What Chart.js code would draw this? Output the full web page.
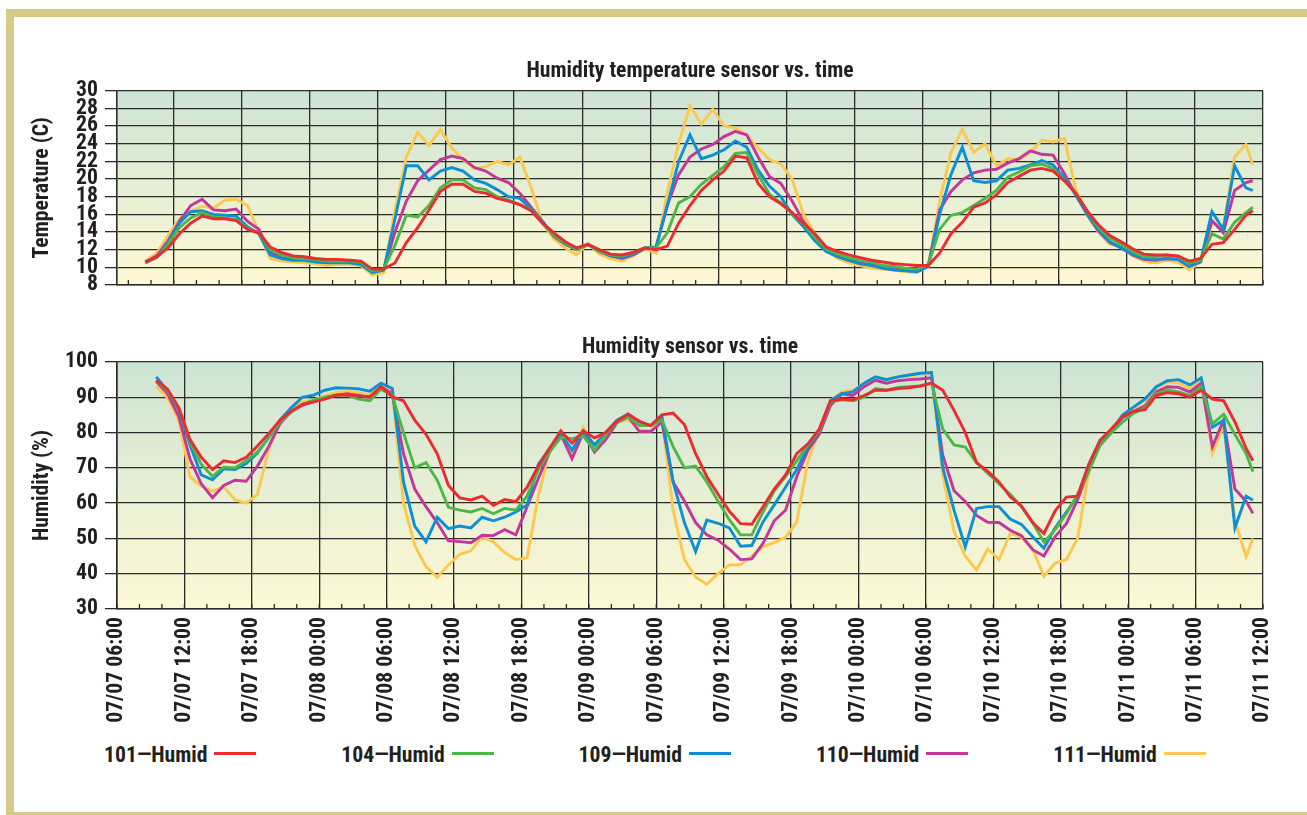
<!DOCTYPE html>
<html>
<head>
<meta charset="utf-8">
<title>Humidity sensor vs. time</title>
<script src="https://cdn.jsdelivr.net/npm/chart.js@4.4.1/dist/chart.umd.min.js"></script>
<style>
  html, body { margin: 0; padding: 0; background: #fff; overflow: hidden; }
  body { position: relative; width: 1307px; height: 815px; }
  .frame {
    position: absolute; left: 6px; top: 9px; width: 1400px; height: 811px;
    box-sizing: border-box; border: 8px solid #d8c98b;
  }
  canvas { position: absolute; left: 0; }
  #tempChart { top: 0; }
  #humidChart { top: 305px; }
  .legend-item { position: absolute; white-space: nowrap; font-weight: bold; color: #231f20; }
  .legend-item .swatch {
    display: inline-block; width: 42px; height: 3px; margin-left: 7px; vertical-align: 7.5px;
  }
</style>
</head>
<body>
<div class="frame"></div>
<canvas id="tempChart" width="1307" height="305"></canvas>
<canvas id="humidChart" width="1307" height="430"></canvas>
<div id="legend"></div>

<script>
const TEXT = '#231f20';
const GRID = '#2b2b2b';

const seriesNames = ['101\u2014Humid', '104\u2014Humid', '109\u2014Humid', '110\u2014Humid', '111\u2014Humid'];
const seriesColors = ['#ed2a2f', '#4cb748', '#0b8fd5', '#c4369a', '#fdc84e'];

const timeTickLabels = [
    '07/07 06:00', '07/07 12:00', '07/07 18:00', '07/08 00:00', '07/08 06:00', '07/08 12:00',
    '07/08 18:00', '07/09 00:00', '07/09 06:00', '07/09 12:00', '07/09 18:00', '07/10 00:00',
    '07/10 06:00', '07/10 12:00', '07/10 18:00', '07/11 00:00', '07/11 06:00', '07/11 12:00'
];

// hours since 07/07 00:00 - hourly readings from 09:30, last one at 11:06 on 07/11
const sampleHours = Array.from({ length: 98 }, (_, i) => 9.5 + i).concat([107.1]);

// temperature (C)
const temp101 = [
    10.6, 11.2, 12.2, 13.8, 15.0, 15.8, 15.5, 15.5, 15.3, 14.3,
    13.9, 12.3, 11.7, 11.3, 11.2, 11.0, 10.9, 10.9, 10.8, 10.7,
    9.8, 9.8, 10.5, 12.8, 14.5, 16.5, 18.6, 19.4, 19.4, 18.6,
    18.4, 17.8, 17.5, 17.1, 16.4, 15.0, 13.9, 12.9, 12.2, 12.6,
    12.0, 11.5, 11.4, 11.7, 12.2, 12.0, 12.4, 15.0, 17.0, 18.7,
    19.9, 20.9, 22.6, 22.4, 19.5, 18.0, 17.2, 16.2, 15.0, 13.8,
    12.3, 11.8, 11.4, 11.1, 10.8, 10.6, 10.4, 10.3, 10.2, 10.2,
    11.6, 13.8, 15.1, 16.8, 17.3, 18.2, 19.6, 20.3, 21.0, 21.2,
    20.9, 19.8, 18.4, 16.4, 14.8, 13.6, 12.9, 12.1, 11.5, 11.4,
    11.4, 11.3, 10.7, 11.0, 12.6, 12.8, 14.3, 15.9, 16.4
];
const temp104 = [
    10.6, 11.1, 12.6, 14.5, 15.6, 16.2, 15.7, 15.6, 15.4, 14.4,
    13.9, 12.0, 11.4, 11.1, 11.0, 10.9, 10.7, 10.7, 10.7, 10.6,
    9.6, 9.8, 12.5, 15.9, 15.7, 17.0, 19.0, 19.9, 19.9, 19.0,
    18.8, 18.0, 17.6, 17.1, 16.5, 15.0, 13.6, 12.7, 12.0, 12.6,
    11.8, 11.4, 11.3, 11.7, 12.2, 12.2, 13.9, 17.3, 18.0, 19.4,
    20.4, 21.4, 22.9, 23.0, 20.5, 18.3, 17.3, 16.1, 14.9, 13.4,
    12.1, 11.5, 11.1, 10.8, 10.6, 10.2, 10.1, 9.9, 9.8, 10.3,
    14.3, 15.9, 16.2, 17.0, 17.8, 18.7, 20.2, 20.8, 21.5, 21.7,
    21.2, 19.8, 18.4, 16.4, 14.5, 13.3, 12.6, 11.8, 11.2, 11.2,
    11.4, 11.2, 10.5, 10.8, 13.8, 13.2, 15.1, 16.2, 16.8
];
const temp109 = [
    10.5, 11.1, 12.8, 15.0, 16.3, 16.4, 16.0, 15.9, 15.8, 14.6,
    13.8, 11.4, 11.0, 10.8, 10.8, 10.6, 10.5, 10.5, 10.5, 10.3,
    9.4, 9.7, 15.5, 21.5, 21.5, 19.9, 20.9, 21.3, 20.9, 19.9,
    19.5, 18.8, 18.0, 17.8, 16.6, 15.2, 13.6, 12.6, 12.0, 12.6,
    11.8, 11.3, 11.1, 11.5, 12.2, 12.3, 17.0, 22.0, 25.0, 22.3,
    22.7, 23.3, 24.3, 23.6, 21.0, 19.2, 18.0, 16.0, 14.6, 13.0,
    11.8, 11.2, 10.8, 10.4, 10.2, 9.9, 9.7, 9.6, 9.5, 10.1,
    16.0, 20.5, 23.6, 19.8, 19.6, 19.8, 21.0, 21.2, 21.6, 22.1,
    21.6, 20.1, 18.2, 16.0, 14.2, 12.9, 12.2, 11.5, 11.0, 10.9,
    11.0, 10.9, 10.1, 10.7, 16.3, 14.3, 21.5, 19.0, 18.7
];
const temp110 = [
    10.6, 11.3, 13.0, 15.2, 17.0, 17.7, 16.5, 16.4, 16.6, 15.2,
    14.3, 11.7, 11.1, 10.9, 10.9, 10.7, 10.6, 10.6, 10.6, 10.4,
    9.5, 9.7, 14.0, 17.5, 19.8, 21.0, 22.2, 22.6, 22.3, 21.3,
    20.9, 20.1, 19.6, 18.4, 16.8, 15.2, 13.5, 12.6, 12.0, 12.6,
    11.8, 11.3, 11.0, 11.4, 12.1, 12.2, 17.0, 20.5, 22.5, 23.4,
    23.9, 24.8, 25.4, 25.0, 22.5, 20.3, 19.5, 17.5, 15.2, 13.5,
    12.0, 11.3, 10.8, 10.5, 10.3, 10.0, 9.8, 9.7, 9.5, 10.2,
    16.5, 18.6, 19.9, 20.7, 21.0, 21.1, 21.8, 22.3, 23.2, 22.8,
    22.7, 20.6, 18.2, 16.0, 14.1, 12.8, 12.2, 11.4, 10.9, 10.8,
    11.0, 10.9, 10.1, 10.6, 15.3, 13.9, 18.7, 19.6, 19.8
];
const temp111 = [
    10.7, 11.6, 13.6, 15.5, 16.4, 16.9, 16.7, 17.6, 17.7, 17.0,
    14.0, 11.0, 10.7, 10.6, 10.5, 10.4, 10.2, 10.3, 10.3, 10.2,
    9.1, 9.4, 16.5, 22.5, 25.3, 23.8, 25.6, 23.5, 22.2, 21.2,
    21.4, 22.0, 21.6, 22.5, 19.0, 15.0, 13.2, 12.2, 11.4, 12.7,
    11.5, 11.0, 10.7, 11.3, 12.1, 11.6, 18.5, 24.0, 28.3, 26.2,
    27.9, 26.0, 25.8, 25.0, 23.5, 22.2, 21.7, 20.0, 16.0, 13.8,
    12.0, 11.0, 10.5, 10.2, 9.9, 9.8, 9.7, 9.5, 9.4, 10.1,
    17.5, 23.0, 25.6, 23.0, 24.0, 21.5, 22.3, 22.2, 23.0, 24.4,
    24.2, 24.6, 18.8, 15.9, 14.0, 12.6, 12.4, 11.3, 10.7, 10.5,
    10.8, 10.6, 9.7, 10.6, 15.0, 14.6, 22.5, 23.9, 21.6
];

// relative humidity (%)
const hum101 = [
    94.8, 92.3, 87.0, 78.0, 73.0, 69.5, 72.0, 71.5, 73.0, 76.2,
    79.7, 83.5, 86.0, 88.0, 88.7, 89.5, 90.6, 90.7, 90.4, 90.1,
    93.0, 90.1, 89.0, 83.5, 79.5, 74.0, 65.0, 61.5, 60.9, 62.0,
    59.4, 61.0, 60.4, 64.5, 70.5, 75.5, 80.5, 77.0, 80.5, 78.5,
    80.0, 83.2, 85.2, 83.2, 82.0, 85.0, 85.5, 82.3, 74.0, 67.5,
    62.5, 57.7, 54.2, 54.0, 59.0, 64.0, 68.0, 74.0, 76.8, 81.0,
    89.0, 89.5, 89.3, 90.5, 92.0, 92.0, 92.5, 92.7, 93.2, 94.0,
    92.0, 86.3, 80.0, 71.5, 69.0, 66.0, 61.8, 59.2, 54.5, 51.4,
    57.8, 61.7, 62.0, 71.0, 77.8, 81.0, 84.5, 86.0, 86.5, 90.5,
    91.3, 91.0, 90.0, 92.0, 89.5, 89.0, 83.0, 75.5, 72.0
];
const hum104 = [
    94.8, 91.8, 87.0, 77.5, 71.0, 67.6, 70.2, 70.0, 72.0, 74.5,
    78.5, 83.0, 85.8, 88.0, 89.2, 90.0, 90.6, 90.6, 89.5, 89.0,
    92.3, 90.5, 80.0, 70.0, 71.5, 66.5, 58.8, 58.0, 57.5, 58.5,
    57.0, 58.5, 58.0, 62.0, 69.5, 74.5, 78.6, 78.3, 79.0, 75.0,
    79.5, 83.0, 84.5, 82.0, 82.0, 83.5, 76.0, 70.0, 70.5, 66.0,
    60.5, 55.3, 51.0, 51.0, 57.5, 63.5, 67.5, 72.0, 76.5, 80.5,
    88.7, 89.3, 89.0, 90.0, 92.5, 92.0, 92.8, 93.0, 93.2, 94.0,
    81.0, 76.5, 75.9, 71.5, 68.5, 65.5, 62.5, 59.0, 54.5, 49.0,
    52.5, 57.0, 62.5, 69.0, 76.4, 80.0, 83.0, 85.5, 87.0, 91.0,
    92.0, 91.5, 90.5, 93.0, 82.5, 85.2, 79.5, 74.0, 68.9
];
const hum109 = [
    95.8, 91.8, 86.5, 76.5, 68.0, 66.6, 69.7, 69.5, 71.2, 74.2,
    78.6, 83.5, 87.0, 90.0, 90.6, 92.0, 92.7, 92.6, 92.4, 91.7,
    94.0, 92.5, 66.0, 53.5, 49.0, 56.0, 52.8, 53.5, 53.0, 56.0,
    55.0, 56.0, 57.5, 59.5, 71.0, 75.5, 80.0, 75.0, 80.5, 76.5,
    80.0, 83.5, 85.3, 83.0, 82.0, 84.5, 66.0, 54.5, 46.3, 55.2,
    54.3, 53.0, 47.8, 48.0, 54.7, 59.5, 64.5, 69.5, 76.0, 80.5,
    89.0, 91.0, 91.5, 94.0, 95.8, 95.0, 95.8, 96.3, 96.8, 97.0,
    70.0, 58.0, 47.6, 58.5, 59.0, 59.0, 55.5, 54.0, 50.5, 47.2,
    53.0, 57.5, 62.0, 71.0, 77.8, 80.5, 85.0, 87.3, 89.5, 93.0,
    94.7, 95.0, 93.5, 95.5, 81.5, 83.5, 53.0, 62.0, 60.8
];
const hum110 = [
    94.5, 91.0, 84.5, 72.5, 65.5, 61.5, 65.0, 66.5, 66.2, 70.5,
    76.0, 82.5, 86.0, 87.7, 88.8, 89.8, 90.6, 91.0, 90.5, 90.0,
    93.0, 91.0, 74.0, 64.0, 59.0, 54.5, 49.3, 49.1, 48.8, 50.9,
    50.8, 52.5, 51.0, 59.0, 67.0, 74.5, 79.5, 72.6, 80.0, 74.5,
    78.0, 82.8, 84.5, 80.3, 80.3, 83.0, 66.0, 60.6, 54.5, 51.0,
    49.5, 47.0, 44.0, 44.2, 48.6, 55.0, 58.0, 67.5, 75.0, 79.5,
    87.7, 91.0, 90.5, 93.0, 94.8, 94.0, 94.7, 95.0, 95.2, 95.5,
    73.5, 63.5, 60.5, 56.5, 54.6, 54.5, 52.3, 50.8, 46.8, 45.0,
    50.5, 54.2, 61.0, 69.5, 76.5, 80.0, 84.3, 86.0, 87.5, 91.5,
    93.0, 92.8, 91.5, 94.0, 76.0, 83.5, 64.0, 60.5, 57.1
];
const hum111 = [
    93.1, 89.8, 83.5, 67.5, 64.8, 63.4, 64.6, 61.0, 60.0, 62.5,
    75.0, 83.5, 87.0, 88.7, 89.2, 90.4, 91.4, 91.7, 91.2, 90.6,
    93.6, 91.5, 60.0, 48.0, 42.0, 39.0, 42.5, 45.5, 46.5, 50.5,
    49.0, 46.0, 44.0, 44.5, 62.0, 75.0, 80.5, 73.8, 81.5, 75.5,
    80.0, 83.0, 83.6, 80.8, 80.5, 84.0, 58.0, 44.0, 39.0, 37.0,
    40.0, 42.5, 42.5, 45.0, 47.7, 48.8, 50.3, 54.7, 72.0, 80.5,
    89.0, 91.5, 92.0, 93.8, 95.0, 95.0, 95.8, 96.0, 96.5, 96.5,
    68.0, 52.0, 45.0, 41.0, 47.0, 44.0, 51.4, 50.3, 47.0, 39.2,
    43.0, 44.0, 50.0, 69.0, 77.5, 81.0, 84.5, 86.5, 88.0, 92.5,
    94.3, 94.0, 92.5, 95.0, 74.0, 82.0, 55.0, 44.8, 50.0
];

// the original uses a bold condensed grotesque; take a condensed width of an
// installed family if one exists, otherwise plain Liberation Sans bold
function pickFont() {
    const c = document.createElement('canvas').getContext('2d');
    const sample = 'Humidity temperature sensor vs. time';
    for (const f of ['Roboto', 'Noto Sans', 'Open Sans']) {
        c.font = 'bold 20px "' + f + '"';
        const wide = c.measureText(sample).width;
        c.font = 'bold condensed 20px "' + f + '"';
        const narrow = c.measureText(sample).width;
        if (narrow < wide * 0.93) {
            return { family: '"' + f + '", sans-serif', weight: 'bold condensed', stretch: 'condensed', w20: narrow };
        }
    }
    c.font = 'bold 20px "Liberation Sans"';
    return { family: '"Liberation Sans", Arial, sans-serif', weight: 'bold', stretch: 'normal', w20: c.measureText(sample).width };
}
const PICK = pickFont();
const FS = Math.round(20 * 328 / PICK.w20 * 10) / 10;   // size that gives the title its 328px width

Chart.defaults.font.family = PICK.family;
Chart.defaults.font.weight = PICK.weight;
Chart.defaults.color = TEXT;

// green-to-cream plot background plus the short 2-hour marks along the time axis
const plotDecor = {
    id: 'plotDecor',
    beforeDraw(chart) {
        const { ctx, chartArea: a } = chart;
        const g = ctx.createLinearGradient(0, a.top, 0, a.bottom);
        g.addColorStop(0, '#cde4d3');
        g.addColorStop(1, '#fef9d5');
        ctx.save();
        ctx.fillStyle = g;
        ctx.fillRect(a.left, a.top, a.right - a.left, a.bottom - a.top);
        ctx.restore();
    },
    beforeDatasetsDraw(chart) {
        const { ctx, chartArea: a, scales: { x } } = chart;
        ctx.save();
        ctx.strokeStyle = GRID;
        ctx.lineWidth = 1.3;
        x.ticks.forEach(t => {
            const px = x.getPixelForValue(t.value);
            ctx.beginPath();
            ctx.moveTo(px, a.bottom);
            ctx.lineTo(px, a.bottom - 5);
            ctx.stroke();
        });
        ctx.restore();
    }
};

// title centred over the plot area rather than the whole canvas
const panelTitle = {
    id: 'panelTitle',
    afterDraw(chart, args, opts) {
        const { ctx, chartArea: a } = chart;
        ctx.save();
        ctx.font = PICK.weight + ' ' + FS + 'px ' + PICK.family;
        ctx.fillStyle = TEXT;
        ctx.textAlign = 'center';
        ctx.textBaseline = 'alphabetic';
        ctx.fillText(opts.text, (a.left + a.right) / 2, a.top - opts.gap);
        ctx.restore();
    }
};

// y title centre sits at x=43, plot starts at x=117
const padLeft = 43 - FS * 0.6 - 4;

function panel(canvasId, cfg) {
    const datasets = cfg.series.map((vals, k) => ({
        label: seriesNames[k],
        data: vals.map((v, i) => ({ x: sampleHours[i], y: v })),
        borderColor: seriesColors[k],
        borderWidth: 2.9,
        pointRadius: 0,
        tension: 0,
        fill: false
    }));

    return new Chart(document.getElementById(canvasId), {
        type: 'line',
        data: { datasets },
        options: {
            responsive: false,
            animation: false,
            devicePixelRatio: 1,
            layout: { padding: { left: padLeft, right: 44, top: cfg.top, bottom: 0 } },
            plugins: {
                legend: { display: false },
                tooltip: { enabled: false },
                panelTitle: { text: cfg.title, gap: cfg.titleGap }
            },
            scales: {
                x: {
                    type: 'linear',
                    min: cfg.xMin,
                    max: 108,
                    afterBuildTicks(scale) {
                        const ticks = [];
                        for (let h = Math.ceil(cfg.xMin / 2) * 2; h <= 108; h += 2) ticks.push({ value: h });
                        scale.ticks = ticks;
                    },
                    afterFit(scale) { scale.height = cfg.xHeight; },
                    grid: {
                        color: c => (c.tick && c.tick.value % 6 === 0) ? GRID : 'rgba(0,0,0,0)',
                        lineWidth: 1.3,
                        drawTicks: false
                    },
                    border: { color: GRID, width: 1.6 },
                    ticks: {
                        display: cfg.xLabels,
                        autoSkip: false,
                        minRotation: 90,
                        maxRotation: 90,
                        padding: 8,
                        color: TEXT,
                        font: { size: FS },
                        callback: v => v % 6 === 0 ? timeTickLabels[(v - 6) / 6] : ''
                    }
                },
                y: {
                    min: cfg.yMin,
                    max: cfg.yMax,
                    afterFit(scale) { scale.width = 117 - padLeft; },
                    ticks: {
                        stepSize: cfg.yStep,
                        autoSkip: false,
                        padding: 7,
                        color: TEXT,
                        font: { size: FS }
                    },
                    grid: { color: GRID, lineWidth: 1.3, tickLength: 12 },
                    border: { color: GRID, width: 1.6 },
                    title: {
                        display: true,
                        text: cfg.yTitle,
                        color: TEXT,
                        font: { size: FS },
                        padding: { top: 4, bottom: 4 }
                    }
                }
            }
        },
        plugins: [plotDecor, panelTitle]
    });
}

panel('tempChart', {
    title: 'Humidity temperature sensor vs. time',
    titleGap: 14,
    top: 90.7,
    xMin: 7,
    xHeight: 6,
    xLabels: false,
    yTitle: 'Temperature (C)',
    yMin: 8, yMax: 30, yStep: 2,
    series: [temp101, temp104, temp109, temp110, temp111]
});

panel('humidChart', {
    title: 'Humidity sensor vs. time',
    titleGap: 9,
    top: 57,
    xMin: 6,
    xHeight: 126,
    xLabels: true,
    yTitle: 'Humidity (%)',
    yMin: 30, yMax: 100, yStep: 10,
    series: [hum101, hum104, hum109, hum110, hum111]
});

// legend: name followed by a short line in the series colour
const legend = document.getElementById('legend');
seriesNames.forEach((name, k) => {
    const item = document.createElement('div');
    item.className = 'legend-item';
    item.style.fontFamily = PICK.family;
    item.style.fontStretch = PICK.stretch;
    item.style.fontSize = FS + 'px';
    item.style.lineHeight = FS + 'px';
    item.style.top = (763 - 0.86 * FS) + 'px';
    item.style.left = (104 + k * 237.3) + 'px';
    item.textContent = name;
    const sw = document.createElement('span');
    sw.className = 'swatch';
    sw.style.background = seriesColors[k];
    item.appendChild(sw);
    legend.appendChild(item);
});
</script>
</body>
</html>
